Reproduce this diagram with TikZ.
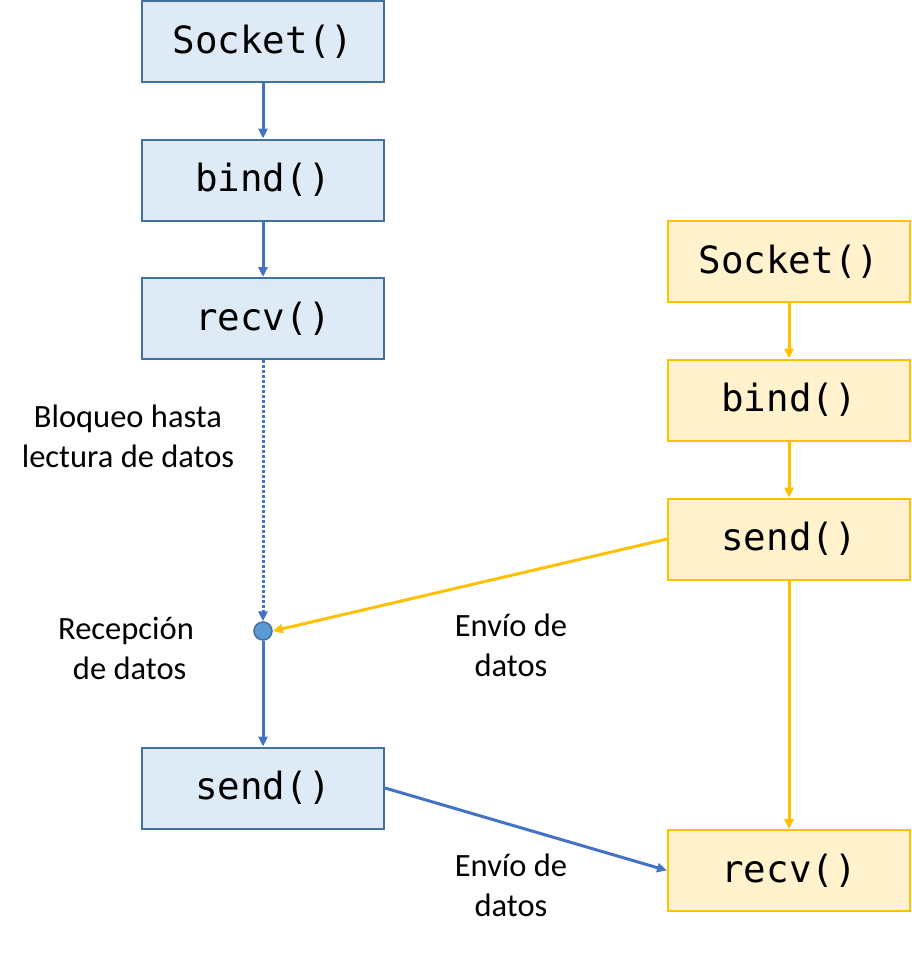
\documentclass[tikz,border=0pt]{standalone}
\usepackage{fontspec}
\setmainfont{Carlito}
\newfontfamily\codefont{DejaVu Sans Mono}
\usetikzlibrary{arrows.meta}
\definecolor{bfill}{HTML}{DEEBF7}
\definecolor{bdraw}{HTML}{41719C}
\definecolor{barrow}{HTML}{4472C4}
\definecolor{ofill}{HTML}{FFF2CC}
\definecolor{odraw}{HTML}{FFC000}
\definecolor{cfill}{HTML}{5B9BD5}
\tikzset{
  fbox/.style={rectangle, minimum width=242pt, minimum height=81pt, inner sep=0pt, line width=2pt,
    font=\codefont\fontsize{37.5}{40}\selectfont},
  bluebox/.style={fbox, draw=bdraw, fill=bfill},
  orangebox/.style={fbox, draw=odraw, fill=ofill},
  barr/.style={draw=barrow, line width=3pt, -{Triangle[length=10pt,width=9pt]}},
  oarr/.style={draw=odraw, line width=3pt, -{Triangle[length=10pt,width=9pt]}},
  lbl/.style={align=center, font=\fontsize{32.5}{40}\selectfont, inner sep=0pt}
}
\begin{document}
\begin{tikzpicture}[x=1pt,y=-1pt]
\useasboundingbox (0,0) rectangle (911,959);
% left column
\node[bluebox] (ls) at (263,41.5) {Socket()};
\node[bluebox] (lb) at (263,180) {bind()};
\node[bluebox] (lr) at (263,318.5) {recv()};
\node[bluebox] (lsd) at (263,788) {send()};
% right column
\node[orangebox] (rs) at (789,261.5) {Socket()};
\node[orangebox] (rb) at (789,400) {bind()};
\node[orangebox] (rsd) at (789,539) {send()};
\node[orangebox] (rr) at (789,870.5) {recv()};
% junction
\node[circle, draw=bdraw, fill=cfill, line width=1.5pt, minimum size=18pt, inner sep=0pt] (dot) at (263,631) {};
% connectors
\draw[barr] (ls) -- (lb);
\draw[barr] (lb) -- (lr);
\draw[barr, dotted] (lr) -- (dot);
\draw[barr] (dot) -- (lsd);
\draw[barr] (lsd.east) -- (rr.west);
\draw[oarr] (rs) -- (rb);
\draw[oarr] (rb) -- (rsd);
\draw[oarr] (rsd.west) -- (dot.east);
\draw[oarr] (rsd) -- (rr);
% labels
\node[lbl] (t1) at (128,436) {Bloqueo hasta\\lectura de datos};
\node[lbl] (t2) at (126,648) {Recepción\\\ de datos};
\node[lbl] (t3) at (511,645) {Envío de\\datos};
\node[lbl] (t4) at (511,885) {Envío de\\datos};
\end{tikzpicture}
\end{document}
